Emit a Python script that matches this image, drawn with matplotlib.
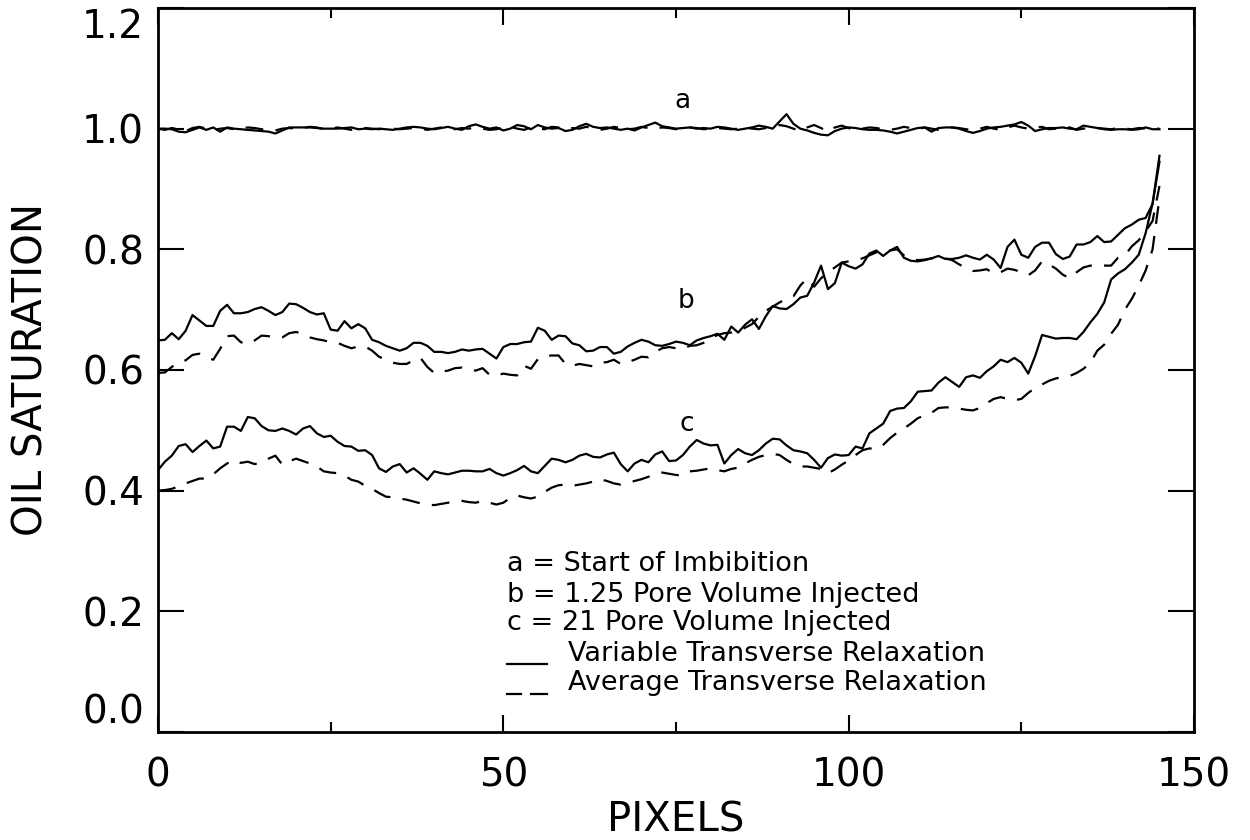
import matplotlib
matplotlib.use("Agg")
import matplotlib.pyplot as plt
import numpy as np

plt.rcParams['font.family'] = ['DejaVu Sans']

# pixel index along the core
pixels = np.arange(146)

# a = start of imbibition
a_var = ([1.000, 1.000, 0.999, 0.995, 0.994, 0.998, 1.002, 0.998, 1.002, 0.995,
          1.002, 1.000, 0.999, 0.998, 0.997, 0.996, 0.995, 0.992, 0.997, 1.002,
          1.002, 1.002, 1.002, 1.001, 1.000, 1.000, 1.000, 1.001, 1.002, 0.999,
          1.000, 0.999, 1.000, 0.999, 0.998, 1.000, 1.002, 1.003]
         + [1.002, 1.000, 0.999, 1.001, 1.003, 1.000, 0.998, 1.004, 1.007, 1.003,
            1.000, 1.002, 0.997, 1.000, 1.006, 1.004, 0.999, 1.006, 1.002, 1.000,
            1.001, 0.996, 0.998, 1.004, 1.008, 1.003, 1.001, 1.002, 1.000, 0.998,
            1.000, 0.997, 1.002, 1.006, 1.010, 1.004, 1.002, 1.000, 1.001, 1.002,
            1.000, 1.001, 1.000, 1.003, 1.002, 1.000, 0.998, 1.000, 1.002, 1.005,
            1.003, 1.000, 1.012, 1.024, 1.008]
         + [1.000, 0.997, 0.993, 0.990, 0.989, 0.996, 1.000, 1.002, 1.001, 0.999,
            0.998, 0.998, 0.997, 0.995, 0.992, 0.995, 0.998, 1.001, 1.002, 0.995,
            1.001, 1.002, 1.002, 1.000, 0.996, 0.993, 0.996, 1.000, 1.002, 1.003,
            1.005, 1.007, 1.011, 1.005, 0.996, 0.999, 1.001, 1.001, 1.002, 1.000,
            0.999, 1.005, 1.003, 1.001, 0.999, 0.998, 0.999, 0.999, 0.998, 0.999,
            1.002, 0.999, 0.999])
a_avg = [1.000, 0.998, 1.001, 0.999, 0.996, 1.001, 1.003, 1.000, 0.997, 1.000,
         1.001, 0.999, 1.000, 1.002, 1.001, 0.999, 0.998, 0.997, 1.000, 1.001,
         1.000, 1.001, 1.003, 1.002, 0.999, 1.000, 1.002, 1.000, 0.998, 1.000,
         1.001, 1.000, 0.999, 1.001, 1.000, 0.999, 1.000, 1.001, 1.000, 0.998,
         1.000, 1.002, 1.000, 0.999, 1.001, 1.000, 1.002, 1.000, 0.998, 0.999,
         1.002, 1.003, 1.000, 0.998, 1.002, 1.000, 0.999, 1.003, 1.002, 0.999,
         1.001, 1.000, 1.003, 1.001, 0.998, 1.000, 1.003, 1.001, 0.999, 1.000,
         1.003, 1.001, 1.000, 1.002, 1.001, 0.999, 1.000, 1.002, 1.001, 0.999,
         1.000, 1.001, 1.000, 0.999, 1.000, 1.002, 1.000, 0.999, 1.001, 1.003,
         1.006, 1.004, 1.000, 0.996, 1.002, 1.006, 1.001, 0.995, 1.002, 1.005,
         1.001, 0.997, 1.000, 1.002, 1.001, 0.999, 0.998, 1.000, 1.003, 1.001,
         0.999, 1.002, 1.000, 0.998, 1.000, 1.002, 1.001, 0.999, 0.998, 1.000,
         1.003, 1.000, 0.998, 1.002, 1.005, 1.002, 1.000, 1.002, 1.003, 0.999,
         1.000, 1.003, 1.002, 0.998, 1.000, 1.002, 1.001, 1.000, 0.999, 1.001,
         1.000, 0.999, 1.001, 1.000, 1.000, 1.000]

# b = 1.25 pore volume injected
b_var = ([0.649, 0.650, 0.661, 0.651, 0.665, 0.691, 0.682, 0.673, 0.673, 0.698,
          0.708, 0.694, 0.694, 0.696, 0.701, 0.704, 0.698, 0.691, 0.696, 0.710,
          0.709, 0.703, 0.696, 0.692, 0.694, 0.667, 0.665, 0.681, 0.669, 0.676,
          0.669, 0.650, 0.646, 0.640, 0.636, 0.632, 0.636, 0.645, 0.645]
         + [0.640, 0.630, 0.630, 0.628, 0.630, 0.634, 0.632, 0.634, 0.635, 0.627,
            0.619, 0.638, 0.643, 0.643, 0.646, 0.647, 0.670, 0.665, 0.650, 0.657,
            0.656, 0.644, 0.641, 0.631, 0.632, 0.638, 0.638, 0.627, 0.630, 0.639,
            0.645, 0.650, 0.647, 0.641, 0.640, 0.643, 0.647, 0.645, 0.641]
         + [0.649, 0.653, 0.656, 0.660, 0.650, 0.672, 0.662, 0.675, 0.684, 0.668,
            0.689, 0.706, 0.702, 0.701, 0.709, 0.720, 0.723, 0.745, 0.773, 0.734,
            0.744, 0.778, 0.772, 0.768, 0.775, 0.793, 0.798, 0.789, 0.798, 0.804,
            0.786, 0.781, 0.780, 0.782, 0.785, 0.789]
         + [0.784, 0.784, 0.786, 0.790, 0.786, 0.783, 0.791, 0.783, 0.769, 0.804,
            0.816, 0.791, 0.786, 0.804, 0.811, 0.811, 0.792, 0.784, 0.788, 0.808,
            0.808, 0.812, 0.822, 0.812, 0.813, 0.824, 0.835, 0.841, 0.849, 0.852,
            0.875, 0.955])
b_avg = ([0.595, 0.596, 0.605, 0.613, 0.616, 0.625, 0.627, 0.621, 0.617, 0.635,
          0.656, 0.657, 0.646, 0.643, 0.649, 0.657, 0.656, 0.654, 0.654, 0.661,
          0.663, 0.660, 0.654, 0.651, 0.649, 0.646, 0.645, 0.640, 0.636, 0.639,
          0.639, 0.632, 0.622, 0.617, 0.612, 0.610, 0.610, 0.616, 0.620]
         + [0.605, 0.595, 0.597, 0.599, 0.603, 0.604, 0.600, 0.599, 0.603, 0.592,
            0.591, 0.594, 0.592, 0.591, 0.607, 0.602, 0.618, 0.623, 0.624, 0.624,
            0.610, 0.607, 0.610, 0.608, 0.606, 0.612, 0.613, 0.617, 0.610, 0.613,
            0.617, 0.622, 0.621, 0.630, 0.636, 0.638, 0.636, 0.635, 0.640]
         + [0.641, 0.645, 0.652, 0.658, 0.661, 0.662, 0.664, 0.670, 0.676, 0.688,
            0.698, 0.705, 0.712, 0.718, 0.722, 0.740, 0.752, 0.738, 0.752, 0.762,
            0.770, 0.778, 0.780, 0.782, 0.785, 0.790, 0.795, 0.796, 0.798, 0.800,
            0.790, 0.784, 0.782, 0.783, 0.785, 0.787]
         + [0.785, 0.782, 0.775, 0.769, 0.764, 0.765, 0.767, 0.760, 0.762, 0.768,
            0.766, 0.762, 0.757, 0.765, 0.780, 0.775, 0.768, 0.758, 0.752, 0.762,
            0.770, 0.773, 0.772, 0.773, 0.773, 0.786, 0.790, 0.805, 0.815, 0.830,
            0.847, 0.905])

# c = 21 pore volume injected
c_var = ([0.434, 0.448, 0.458, 0.474, 0.477, 0.464, 0.474, 0.483, 0.470, 0.473,
          0.506, 0.506, 0.499, 0.522, 0.520, 0.507, 0.500, 0.499, 0.503, 0.499,
          0.493, 0.503, 0.507, 0.495, 0.489, 0.491, 0.481, 0.474, 0.473, 0.466,
          0.467, 0.459, 0.437, 0.431, 0.440, 0.444, 0.430, 0.437, 0.428]
         + [0.418, 0.432, 0.429, 0.427, 0.430, 0.433, 0.433, 0.432, 0.432, 0.436,
            0.429, 0.425, 0.429, 0.434, 0.441, 0.432, 0.429, 0.441, 0.453, 0.451,
            0.447, 0.451, 0.458, 0.461, 0.456, 0.455, 0.460, 0.463, 0.444, 0.432,
            0.445, 0.451, 0.447, 0.460, 0.465, 0.449, 0.450, 0.459, 0.473]
         + [0.484, 0.478, 0.475, 0.476, 0.445, 0.459, 0.469, 0.462, 0.459, 0.467,
            0.478, 0.486, 0.485, 0.475, 0.467, 0.465, 0.462, 0.451, 0.438, 0.454,
            0.460, 0.458, 0.459, 0.473, 0.470, 0.495, 0.503, 0.511, 0.532, 0.536,
            0.537, 0.548, 0.564, 0.565, 0.566, 0.579]
         + [0.588, 0.580, 0.572, 0.588, 0.591, 0.587, 0.598, 0.606, 0.617, 0.613,
            0.620, 0.612, 0.594, 0.623, 0.658, 0.655, 0.652, 0.653, 0.653, 0.651,
            0.663, 0.679, 0.693, 0.712, 0.750, 0.760, 0.767, 0.778, 0.791, 0.827,
            0.876, 0.945])
c_avg = ([0.400, 0.401, 0.403, 0.407, 0.412, 0.416, 0.420, 0.420, 0.427, 0.437,
          0.445, 0.451, 0.446, 0.448, 0.444, 0.447, 0.453, 0.458, 0.443, 0.449,
          0.453, 0.449, 0.445, 0.440, 0.432, 0.430, 0.429, 0.425, 0.418, 0.415,
          0.408, 0.403, 0.396, 0.390, 0.389, 0.387, 0.385]
         + [0.382, 0.379, 0.377, 0.376, 0.378, 0.380, 0.382, 0.383, 0.381, 0.380,
            0.383, 0.380, 0.377, 0.380, 0.388, 0.392, 0.389, 0.387, 0.390, 0.398,
            0.405, 0.409, 0.410, 0.408, 0.410, 0.412, 0.415, 0.419, 0.416, 0.412,
            0.410, 0.413, 0.416, 0.419, 0.423, 0.427, 0.430, 0.428, 0.426]
         + [0.425, 0.432, 0.433, 0.435, 0.437, 0.434, 0.432, 0.436, 0.438, 0.445,
            0.451, 0.456, 0.459, 0.461, 0.459, 0.451, 0.444, 0.440, 0.440, 0.438,
            0.436, 0.429, 0.435, 0.443, 0.450, 0.459, 0.467, 0.470, 0.469, 0.476,
            0.487, 0.496, 0.503, 0.511, 0.520, 0.525, 0.529, 0.537]
         + [0.538, 0.538, 0.536, 0.534, 0.533, 0.537, 0.545, 0.552, 0.555, 0.552,
            0.550, 0.552, 0.562, 0.570, 0.576, 0.582, 0.586, 0.588, 0.590, 0.595,
            0.602, 0.612, 0.632, 0.642, 0.660, 0.675, 0.700, 0.718, 0.740, 0.765,
            0.800, 0.885])

legend_lines = ["a = Start of Imbibition",
                "b = 1.25 Pore Volume Injected",
                "c = 21 Pore Volume Injected",
                "Variable Transverse Relaxation",
                "Average Transverse Relaxation"]

DASH = (0, (8, 5.5))

fig = plt.figure(figsize=(12.5, 8.4), dpi=100)
ax = fig.add_axes([0.1264, 0.1286, 0.8288, 0.8619])

for var, avg in [(a_var, a_avg), (b_var, b_avg), (c_var, c_avg)]:
    ax.plot(pixels, var, color='black', lw=1.6)
    ax.plot(pixels, avg, color='black', lw=1.6, linestyle=DASH)

ax.text(76, 1.045, 'a', fontsize=19, ha='center', va='center')
ax.text(76.5, 0.715, 'b', fontsize=19, ha='center', va='center')
ax.text(76.5, 0.51, 'c', fontsize=19, ha='center', va='center')

# legend block, drawn as text
rows_y = [0.278, 0.227, 0.180, 0.130, 0.081]
for i in range(3):
    ax.text(50.5, rows_y[i], legend_lines[i], fontsize=19.5, va='center')
ax.text(59.4, rows_y[3], legend_lines[3], fontsize=19.5, va='center')
ax.text(59.4, rows_y[4], legend_lines[4], fontsize=19.5, va='center')
ax.plot([50.5, 56.3], [0.112, 0.112], color='black', lw=1.6)
ax.plot([50.5, 52.5], [0.063, 0.063], color='black', lw=1.6)
ax.plot([54.0, 56.3], [0.063, 0.063], color='black', lw=1.6)

ax.set_xlim(0, 150)
ax.set_ylim(0, 1.2)
ax.set_xticks([0, 50, 100, 150])
ax.set_xticks([25, 75, 125], minor=True)
ax.set_yticks([0.0, 0.2, 0.4, 0.6, 0.8, 1.0, 1.2])
ax.set_yticklabels(['0.0', '0.2', '0.4', '0.6', '0.8', '1.0', '1.2'])
ax.tick_params(axis='x', which='major', direction='in', length=12, width=1.5,
               top=True, labelsize=28, pad=18)
ax.tick_params(axis='x', which='minor', direction='in', length=7, width=1.5, top=True)
ax.tick_params(axis='y', which='major', direction='in', length=19, width=1.5,
               right=True, labelsize=28, pad=10)
ylabels = ax.get_yticklabels()
ylabels[0].set_va('bottom')
ylabels[-1].set_va('top')

for sp in ax.spines.values():
    sp.set_linewidth(2)

ax.set_xlabel('PIXELS', fontsize=29, labelpad=4)
ax.set_ylabel('OIL SATURATION', fontsize=29, labelpad=22)

fig.savefig('out.png', dpi=100)
